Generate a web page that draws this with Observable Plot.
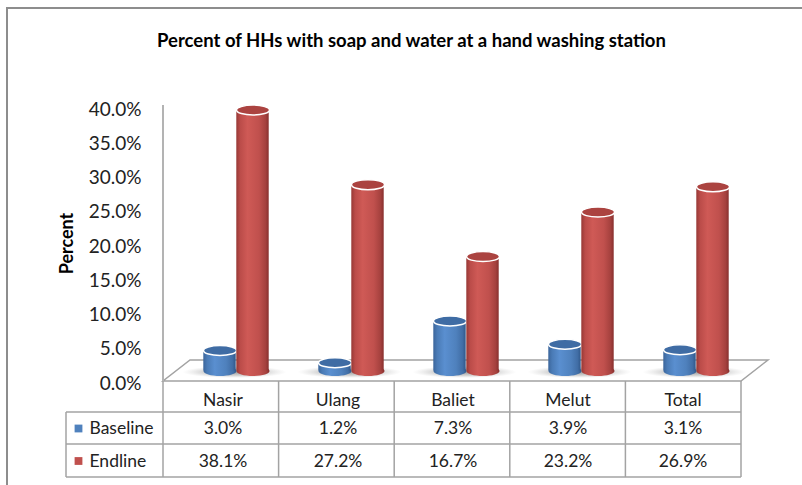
<!DOCTYPE html>
<html><head><meta charset="utf-8">
<script src="https://cdn.jsdelivr.net/npm/d3@7"></script>
<script src="https://cdn.jsdelivr.net/npm/@observablehq/plot@0.6"></script>
<style>
html,body{margin:0;padding:0;background:#fff;}
#chart{width:802px;height:485px;overflow:hidden;}
</style></head><body><div id="chart"></div>
<script>
// ---- data ----
const title = "Percent of HHs with soap and water at a hand washing station";
const categories = ["Nasir", "Ulang", "Baliet", "Melut", "Total"];
const baseline = [0.030, 0.012, 0.073, 0.039, 0.031];
const endline  = [0.381, 0.272, 0.167, 0.232, 0.269];
const seriesNames = ["Baseline", "Endline"];
const yTicks = [0, 0.05, 0.10, 0.15, 0.20, 0.25, 0.30, 0.35, 0.40];
const yLabel = "Percent";

const rows = categories.map((c, i) => ({category: c, baseline: baseline[i], endline: endline[i]}));

// ---- layout / style ----
const W = 802, H = 485;
const mL = 163, mR = 61, mT = 107, mB = 104;
const depthX = 27, depthY = -21;
const bw = (W - mL - mR) / categories.length;
const rx = 16.5, ry = 5;
const blue = "#4F81BD", red = "#C0504D";
const fmt = d3.format(".1%");
const font = "Lato, 'Open Sans', sans-serif";

function ellipseSymbol(a, b) {
  const k = 0.5522847498;
  return {draw(ctx) {
    ctx.moveTo(a, 0);
    ctx.bezierCurveTo(a, b * k, a * k, b, 0, b);
    ctx.bezierCurveTo(-a * k, b, -a, b * k, -a, 0);
    ctx.bezierCurveTo(-a, -b * k, -a * k, -b, 0, -b);
    ctx.bezierCurveTo(a * k, -b, a, -b * k, a, 0);
    ctx.closePath();
  }};
}
const capSym = ellipseSymbol(rx, ry);
const shadowSym = ellipseSymbol(52, 6);

function cylinder(key, side, grad, capFill) {
  const inL = side < 0 ? bw / 2 - 2 * rx : bw / 2;
  const inR = side < 0 ? bw / 2 : bw / 2 - 2 * rx;
  const ddx = depthX / 2 + side * rx;
  return [
    Plot.dot(rows, {x: "category", y: () => 0, symbol: capSym, fill: `url(#${grad})`, stroke: "none", dx: ddx, dy: depthY / 2}),
    Plot.barY(rows, {x: "category", y1: () => 0, y2: key, fill: `url(#${grad})`, insetLeft: inL, insetRight: inR, dx: depthX / 2, dy: depthY / 2}),
    Plot.dot(rows, {x: "category", y: key, symbol: capSym, fill: capFill, stroke: "#fff", strokeWidth: 1.5, dx: ddx, dy: depthY / 2})
  ];
}

const tableText = {fontSize: 17.5, fill: "#222", lineAnchor: "middle"};

const plot = Plot.plot({
  width: W, height: H,
  marginLeft: mL, marginRight: mR, marginTop: mT, marginBottom: mB,
  style: {fontFamily: font, background: "#fff", color: "#222", overflow: "visible"},
  x: {type: "band", domain: categories, padding: 0, axis: null},
  y: {domain: [0, 0.4], axis: null},
  marks: [
    // floor shadows
    Plot.dot(rows, {x: "category", y: () => 0, symbol: shadowSym, fill: "url(#shadowGrad)", stroke: "none", dx: depthX / 2 - 2, dy: depthY / 2 + 1}),
    ...cylinder("baseline", -1, "blueBody", "#3f6ca4"),
    ...cylinder("endline", 1, "redBody", "#ab4340"),
    // y axis
    Plot.axisY({ticks: yTicks, tickFormat: fmt, tickSize: 0, tickPadding: 22, fontSize: 19, fill: "#222", label: null, dy: 2}),
    Plot.text([yLabel], {frameAnchor: "left", dx: -96, dy: -1, rotate: -90, text: d => d, textAnchor: "middle", lineAnchor: "middle", fontWeight: "bold", fontSize: 18, fill: "#000"}),
    // title
    Plot.text([title], {frameAnchor: "top", dx: -41, dy: -66, text: d => d, textAnchor: "middle", lineAnchor: "middle", fontWeight: "bold", fontSize: 18.5, fill: "#000"}),
    // data table
    Plot.text(categories, {x: d => d, text: d => d, frameAnchor: "bottom", dy: 19, ...tableText}),
    Plot.text(rows, {x: "category", text: d => fmt(d.baseline), frameAnchor: "bottom", dy: 47, ...tableText}),
    Plot.text(rows, {x: "category", text: d => fmt(d.endline), frameAnchor: "bottom", dy: 79.5, ...tableText}),
    // legend keys inside table
    Plot.dot([seriesNames[0]], {frameAnchor: "bottom-left", dx: -85, dy: 47, symbol: "square", r: 4.4, fill: blue, stroke: "none"}),
    Plot.dot([seriesNames[1]], {frameAnchor: "bottom-left", dx: -85, dy: 79.5, symbol: "square", r: 4.4, fill: red, stroke: "none"}),
    Plot.text([seriesNames[0]], {frameAnchor: "bottom-left", dx: -74, dy: 47, text: d => d, textAnchor: "start", ...tableText}),
    Plot.text([seriesNames[1]], {frameAnchor: "bottom-left", dx: -74, dy: 79.5, text: d => d, textAnchor: "start", ...tableText})
  ]
});

document.getElementById("chart").appendChild(plot);

// ---- gradients and structural lines drawn with Plot's scales ----
const svg = d3.select(plot);
const defs = svg.insert("defs", ":first-child");
function lin(id, stops) {
  const g = defs.append("linearGradient").attr("id", id).attr("x1", 0).attr("x2", 1).attr("y1", 0).attr("y2", 0);
  stops.forEach(([o, c]) => g.append("stop").attr("offset", o).attr("stop-color", c));
}
lin("blueBody", [[0, "#3b659b"], [0.12, "#4a7bb6"], [0.35, "#5a8fd0"], [0.7, "#4f81bd"], [0.9, "#416ea6"], [1, "#31588a"]]);
lin("redBody", [[0, "#973835"], [0.12, "#bb4c49"], [0.35, "#cf5a56"], [0.7, "#c0504d"], [0.9, "#a5413e"], [1, "#88302e"]]);
const rg = defs.append("radialGradient").attr("id", "shadowGrad");
rg.append("stop").attr("offset", 0).attr("stop-color", "#777").attr("stop-opacity", 0.75);
rg.append("stop").attr("offset", 0.6).attr("stop-color", "#999").attr("stop-opacity", 0.4);
rg.append("stop").attr("offset", 1).attr("stop-color", "#bbb").attr("stop-opacity", 0);

const xs = plot.scale("x"), ys = plot.scale("y");
const xA = xs.range[0], xB = xs.range[1], step = (xB - xA) / categories.length;
const y0 = ys.apply(0), yTop = ys.apply(0.4);
const rowEdges = [y0, y0 + 31, y0 + 63, y0 + 96];
const legendLeft = 66;
const gridColor = "#a3a3a3";

const bg = svg.insert("g", "defs + *");
// outer chart border
bg.append("rect").attr("x", 7).attr("y", 8).attr("width", 1000).attr("height", 1000)
  .attr("fill", "none").attr("stroke", "#8d8d8d").attr("stroke-width", 2);
// floor
bg.append("polygon")
  .attr("points", [[xA, y0], [xB, y0], [xB + depthX, y0 + depthY], [xA + depthX, y0 + depthY]].map(p => p.join(",")).join(" "))
  .attr("fill", "#fff").attr("stroke", gridColor).attr("stroke-width", 1.5);
// value axis line
bg.append("line").attr("x1", xA).attr("x2", xA).attr("y1", yTop - 2).attr("y2", y0)
  .attr("stroke", "#b3b3b3").attr("stroke-width", 2);
// table grid
const grid = svg.append("g").attr("stroke", gridColor).attr("stroke-width", 1.5).attr("fill", "none");
rowEdges.slice(1).forEach(yy => grid.append("line").attr("x1", legendLeft).attr("x2", xB).attr("y1", yy).attr("y2", yy));
d3.range(categories.length + 1).forEach(i => {
  const xx = xA + i * step;
  grid.append("line").attr("x1", xx).attr("x2", xx).attr("y1", rowEdges[0]).attr("y2", rowEdges[3]);
});
grid.append("line").attr("x1", legendLeft).attr("x2", legendLeft).attr("y1", rowEdges[1]).attr("y2", rowEdges[3]);
</script>
</body></html>
